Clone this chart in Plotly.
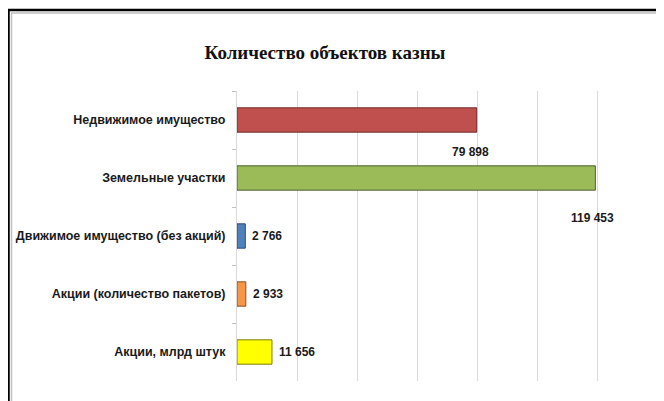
import plotly.graph_objects as go

categories = ["Недвижимое имущество", "Земельные участки", "Движимое имущество (без акций)",
              "Акции (количество пакетов)", "Акции, млрд штук"]
values = [79898, 119453, 2766, 2933, 11656]
value_labels = ["79 898", "119 453", "2 766", "2 933", "11 656"]
bar_colors = ["#C0504D", "#9BBB59", "#4F81BD", "#F79646", "#FFFF00"]
edge_colors = ["#6E2B29", "#4F6130", "#2C4A70", "#8A5022", "#7F7F00"]
title_text = "Количество объектов казны"

fig = go.Figure()
fig.add_trace(go.Bar(
    y=categories, x=values, orientation="h",
    marker=dict(color=bar_colors, line=dict(color=edge_colors, width=1)),
    hoverinfo="skip",
))

label_font = dict(family="Liberation Sans, Arial, sans-serif", size=12, color="#1a1a1a")
placements = [
    dict(xanchor="center", xshift=-6, yshift=-32),
    dict(xanchor="center", xshift=-3, yshift=-40),
    dict(xanchor="left", xshift=5, yshift=0),
    dict(xanchor="left", xshift=5, yshift=0),
    dict(xanchor="left", xshift=5, yshift=0),
]
for cat, val, lab, pl in zip(categories, values, value_labels, placements):
    fig.add_annotation(x=val, y=cat, text="<b>" + lab + "</b>", showarrow=False,
                       xanchor=pl["xanchor"], yanchor="middle",
                       xshift=pl["xshift"], yshift=pl["yshift"], font=label_font)

# page body has an 8px margin; figure coordinates are offset accordingly
OFF = 8
W, H = 664, 401
L, R, T, B = 237 - OFF, 7 + OFF, 91 - OFF, 20 + OFF
pw, ph = W - L - R, H - T - B

def px(xv):
    return (xv - OFF - L) / pw

def py(yv):
    return (H - B - (yv - OFF)) / ph

fig.add_shape(type="rect", xref="paper", yref="paper",
              x0=px(8.5), x1=px(720), y0=py(460), y1=py(10),
              line=dict(color="#000000", width=2.5), fillcolor="rgba(0,0,0,0)", layer="above")
fig.add_shape(type="rect", xref="paper", yref="paper",
              x0=px(11.5), x1=px(720), y0=py(460), y1=py(13),
              line=dict(color="#BFBFBF", width=1.5), fillcolor="rgba(0,0,0,0)", layer="above")

n = len(categories)
fig.update_layout(
    width=W, height=H,
    margin=dict(l=L, r=R, t=T, b=B, autoexpand=False),
    paper_bgcolor="white", plot_bgcolor="white",
    showlegend=False,
    bargap=0.58,
    title=dict(text="<b>" + title_text + "</b>", x=(325 - OFF) / W, xanchor="center",
               y=1 - (52 - OFF) / H, yanchor="middle",
               font=dict(family="Liberation Serif, DejaVu Serif, serif", size=19, color="#111111")),
    xaxis=dict(range=[0, 140000], autorange=False, dtick=20000, showgrid=True, gridcolor="#D9D9D9",
               gridwidth=1, showticklabels=False, zeroline=False, showline=False, ticks="",
               automargin=False),
    yaxis=dict(range=[n - 0.5, -0.5], autorange=False, showgrid=False, zeroline=False,
               automargin=False, showline=True, linecolor="#D9D9D9", linewidth=1,
               ticks="outside", tickson="boundaries", ticklen=4, tickcolor="#BFBFBF",
               ticklabelstandoff=8,
               tickprefix="<b>", ticksuffix="</b>",
               tickfont=dict(family="Liberation Sans, Arial, sans-serif", size=12.5, color="#1a1a1a")),
)

fig.write_html("out.html")
